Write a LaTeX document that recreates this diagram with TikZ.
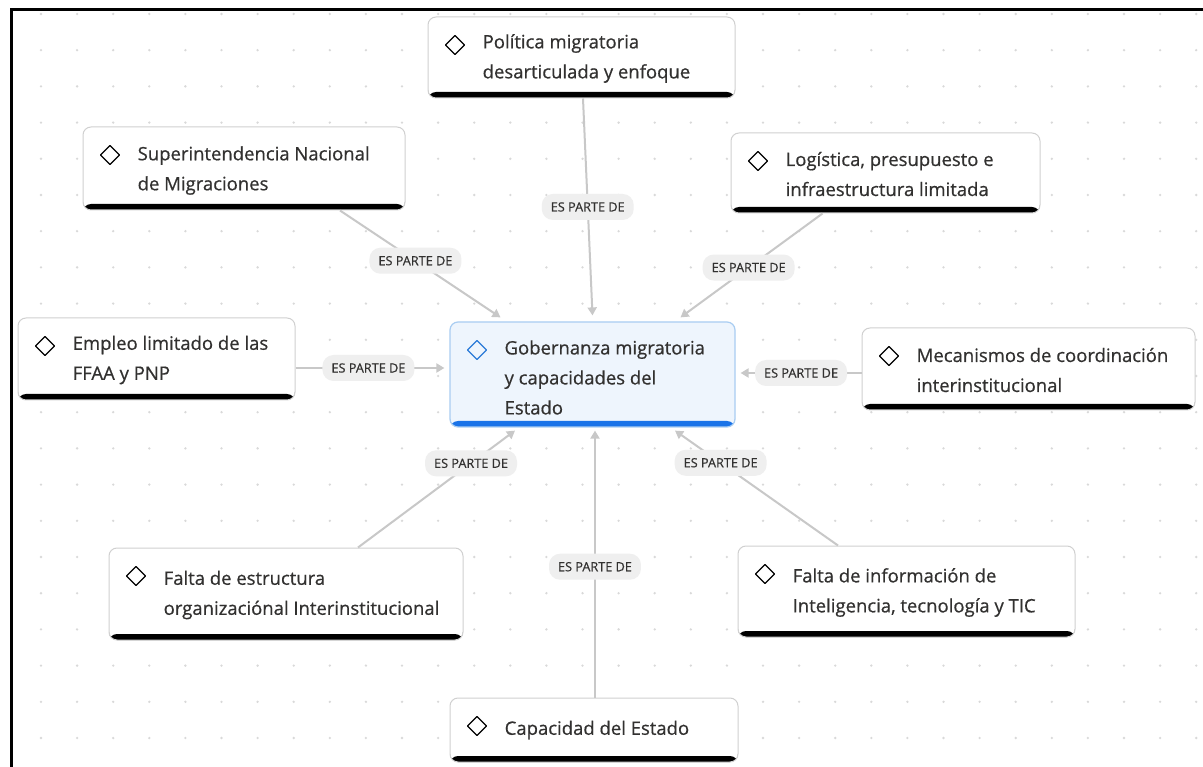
\documentclass[tikz,border=0pt]{standalone}
\usepackage{fontspec}
\setmainfont{Open Sans}
\newfontfamily\medfont[FakeBold=0.6]{Open Sans}
\usetikzlibrary{arrows.meta}
\definecolor{txt}{HTML}{323130}
\definecolor{boxborder}{HTML}{D0D0D0}
\definecolor{dotc}{HTML}{D9D9D9}
\definecolor{linec}{HTML}{C8C8C8}
\definecolor{pill}{HTML}{EFEFEF}
\definecolor{cenfill}{HTML}{EEF5FD}
\definecolor{cenborder}{HTML}{A9CDF2}
\definecolor{cenbar}{HTML}{1A73E8}
\definecolor{cendia}{HTML}{2B7BD8}
\tikzset{
  box/.style={draw=boxborder, line width=1pt, fill=white, rounded corners=8pt, inner sep=0pt,
    path picture={
      \fill[black] ([yshift=6pt]path picture bounding box.south west) rectangle (path picture bounding box.south east);
      \draw[line width=1.3pt, black, rounded corners=0.5pt] ([xshift=27pt, yshift=-28pt]path picture bounding box.north west) ++(-9.5pt,0) -- ++(9.5pt,9.5pt) -- ++(9.5pt,-9.5pt) -- ++(-9.5pt,-9.5pt) -- cycle;
    }},
  cenbox/.style={draw=cenborder, line width=1.2pt, fill=cenfill, rounded corners=8pt, inner sep=0pt,
    path picture={
      \fill[cenbar] ([yshift=6pt]path picture bounding box.south west) rectangle (path picture bounding box.south east);
      \draw[line width=1.3pt, cendia, rounded corners=0.5pt] ([xshift=27pt, yshift=-28pt]path picture bounding box.north west) ++(-9.5pt,0) -- ++(9.5pt,9.5pt) -- ++(9.5pt,-9.5pt) -- ++(-9.5pt,-9.5pt) -- cycle;
    }},
  lbl/.style={anchor=west, align=left, inner sep=0pt, text=txt, font=\medfont\fontsize{18.5}{30}\selectfont},
  conn/.style={draw=linec, line width=2pt, -{Triangle[length=8pt,width=9pt,fill=linec]}},
  lab/.style={fill=pill, rounded corners=11pt, minimum height=26pt, inner xsep=9pt, inner ysep=0pt, text=txt, font=\medfont\fontsize{12.7}{14}\selectfont}
}
\begin{document}
\begin{tikzpicture}[x=1pt,y=-1pt]
\useasboundingbox (0,0) rectangle (1203,767);
\fill[white] (0,0) rectangle (1203,767);
% dot grid
\foreach \i in {0,...,32}{
  \foreach \j in {0,...,21}{
    \fill[dotc] ({41+36.1*\i},{14+36.2*\j}) circle (1.3pt);
  }
}
% frame
\draw[line width=3pt] (1203,10) -- (11,10) -- (11,767);

% boxes
\node[box, minimum width=307pt, minimum height=81pt] (pol) at (581.5,57.5) {};
\node[lbl] (polt) at ([xshift=55pt,yshift=-1pt]pol.west) {Política migratoria\\desarticulada y enfoque};

\node[box, minimum width=322pt, minimum height=83pt] (sup) at (244,168.5) {};
\node[lbl] (supt) at ([xshift=55pt,yshift=-2pt]sup.west) {Superintendencia Nacional\\de Migraciones};

\node[box, minimum width=309pt, minimum height=80pt] (log) at (885.5,173) {};
\node[lbl] (logt) at ([xshift=55pt,yshift=-1pt]log.west) {Logística, presupuesto e\\infraestructura limitada};

\node[box, minimum width=277pt, minimum height=82pt] (emp) at (156.5,359) {};
\node[lbl] (empt) at ([xshift=55pt,yshift=-1pt]emp.west) {Empleo limitado de las\\FFAA y PNP};

\node[cenbox, minimum width=285pt, minimum height=105pt] (cen) at (592.5,374.5) {};
\node[lbl] (cent) at ([xshift=55pt,yshift=-3pt]cen.west) {Gobernanza migratoria\\y capacidades del\\Estado};

\node[box, minimum width=333pt, minimum height=82pt] (mec) at (1028.5,369) {};
\node[lbl] (mect) at ([xshift=55pt,yshift=-1pt]mec.west) {Mecanismos de coordinación\\interinstitucional};

\node[box, minimum width=354pt, minimum height=92pt] (fe) at (286,594) {};
\node[lbl] (fet) at ([xshift=55pt,yshift=-1pt]fe.west) {Falta de estructura\\organizaciónal Interinstitucional};

\node[box, minimum width=337pt, minimum height=91pt] (fi) at (906.5,591.5) {};
\node[lbl] (fit) at ([xshift=55pt,yshift=-1pt]fi.west) {Falta de información de\\Inteligencia, tecnología y TIC};

\node[box, minimum width=288pt, minimum height=64pt] (cap) at (594,730) {};
\node[lbl] (capt) at ([xshift=55pt,yshift=0pt]cap.west) {Capacidad del Estado};

% connectors
\draw[conn] ([xshift=1.5pt]pol.south) -- node[lab]{ES PARTE DE} ([yshift=6pt]cen.north);
\draw[conn] ([xshift=96pt]sup.south) -- node[lab, pos=0.47]{ES PARTE DE} ([xshift=-92pt,yshift=4pt]cen.north);
\draw[conn] ([xshift=-63pt]log.south) -- node[lab, pos=0.52]{ES PARTE DE} ([xshift=88pt,yshift=4pt]cen.north);
\draw[conn] ([yshift=-9pt]emp.east) -- node[lab, pos=0.49]{ES PARTE DE} ([xshift=-5pt,yshift=6.5pt]cen.west);
\draw[conn] ([yshift=-4pt]mec.west) -- node[lab, pos=0.5]{ES PARTE DE} ([xshift=5pt,yshift=1.5pt]cen.east);
\draw[conn] ([xshift=72pt]fe.north) -- node[lab, pos=0.72]{ES PARTE DE} ([xshift=-77.5pt,yshift=-3pt]cen.south);
\draw[conn] ([xshift=-68.5pt]fi.north) -- node[lab, pos=0.72]{ES PARTE DE} ([xshift=82.5pt,yshift=-3pt]cen.south);
\draw[conn] ([xshift=1pt]cap.north) -- node[lab, pos=0.49]{ES PARTE DE} ([xshift=2.5pt,yshift=-3pt]cen.south);
\end{tikzpicture}
\end{document}
